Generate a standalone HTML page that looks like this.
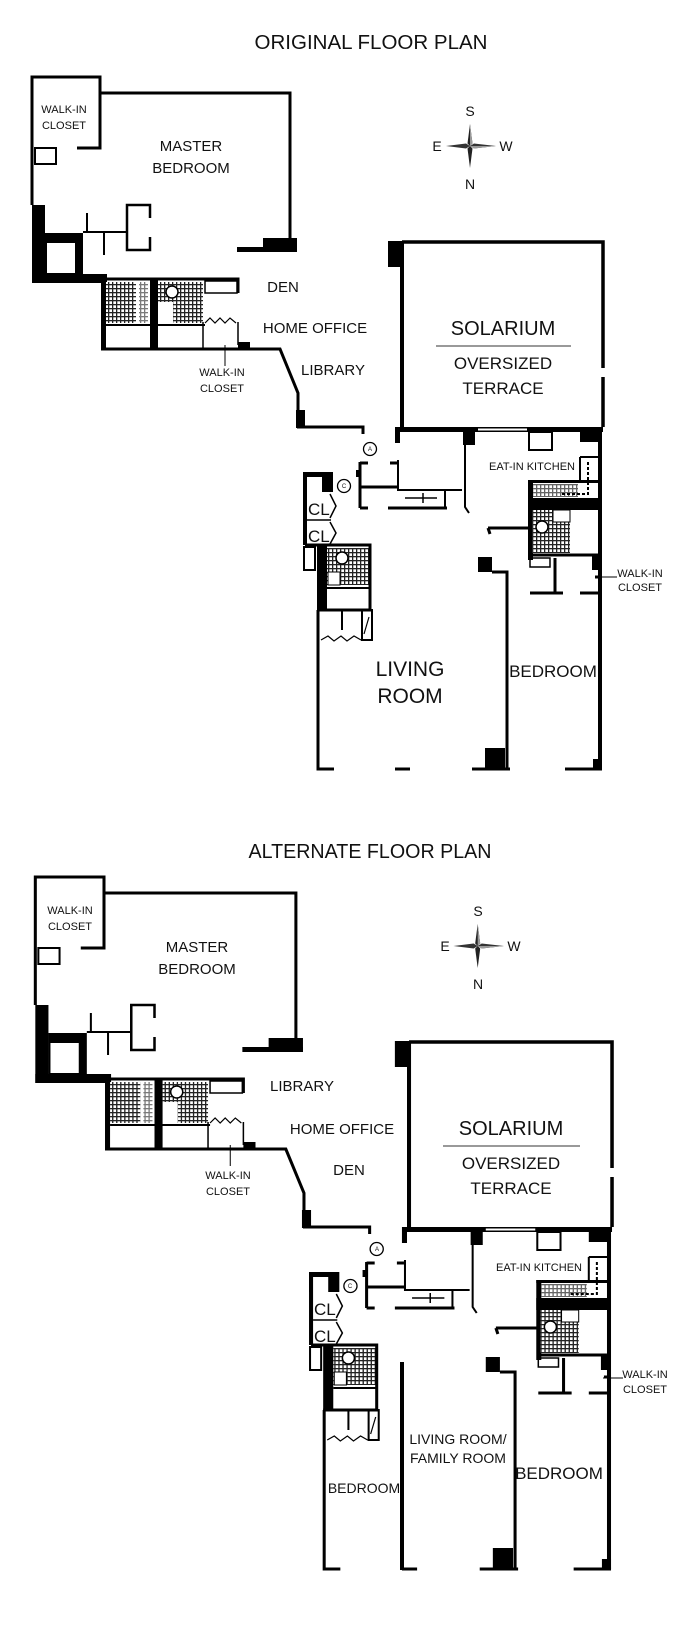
<!DOCTYPE html>
<html><head><meta charset="utf-8"><style>
html,body{margin:0;padding:0;background:#fff}
svg{display:block}
text{font-family:"Liberation Sans",sans-serif;fill:#111}
</style></head><body>
<svg width="697" height="1627" viewBox="0 0 697 1627" xmlns="http://www.w3.org/2000/svg">
<defs>
<pattern id="h" width="4" height="4" patternUnits="userSpaceOnUse">
<rect width="4" height="4" fill="#fff"/><rect x="0" y="0" width="4" height="1.3" fill="#222"/><rect x="0" y="0" width="1.3" height="4" fill="#222"/>
</pattern>
<g id="plan" fill="none" stroke="#000" stroke-width="3">
<!-- master -->
<path d="M77 148 H100 V77 H32 V205"/>
<path d="M100 93 H290 V250"/>
<rect x="237" y="247" width="60" height="5" fill="#000" stroke="none"/>
<rect x="263" y="238" width="34" height="14" fill="#000" stroke="none"/>
<rect x="32" y="205" width="13" height="78" fill="#000" stroke="none"/>
<rect x="32" y="274" width="75" height="9" fill="#000" stroke="none"/>
<rect x="45" y="233" width="38" height="42" fill="#000" stroke="none"/>
<rect x="47" y="243" width="28" height="30" fill="#fff" stroke="none"/>
<path d="M87 213 V232 M83 232 H126 M104 232 V255" stroke-width="2"/>
<path d="M150 218 V205 H127 V250 H150 V237" stroke-width="2.5"/>
<rect x="35" y="148" width="21" height="16" stroke-width="2"/>
<!-- bath block -->
<rect x="106" y="282" width="30" height="41" fill="url(#h)" stroke="none"/>
<rect x="139" y="282" width="9" height="41" fill="url(#h)" stroke="none" opacity="0.6"/>
<rect x="158" y="282" width="45" height="20" fill="url(#h)" stroke="none"/>
<rect x="173" y="302" width="30" height="21" fill="url(#h)" stroke="none"/>
<circle cx="172" cy="292" r="6" fill="#fff" stroke-width="1.5"/>
<rect x="205" y="281" width="32" height="12" stroke-width="1.5"/>
<path d="M101 279 H238 V293"/>
<rect x="101" y="278" width="5" height="72" fill="#000" stroke="none"/>
<rect x="150" y="278" width="8" height="72" fill="#000" stroke="none"/>
<path d="M106 325 H205" stroke-width="2"/>
<path d="M203 322 V348 M238 322 V345" stroke-width="1.5"/>
<path d="M205 323 L210 318 L215 323 L220 318 L225 323 L230 318 L236 323" stroke-width="1.2"/>
<path d="M101 349 H280 L298 393 V412"/>
<rect x="238" y="342" width="12" height="8" fill="#000" stroke="none"/>
<path d="M225 345 V366" stroke-width="1"/>
<rect x="296" y="410" width="9" height="18" fill="#000" stroke="none"/>
<path d="M297 427 H363 V434"/>
<!-- solarium -->
<rect x="388" y="241" width="14" height="26" fill="#000" stroke="none"/>
<path d="M402 242 H603 V368 M603 377 V427" stroke-width="3.5"/>
<path d="M402 241 V427" stroke-width="4"/>
<!-- kitchen top -->
<rect x="396" y="427" width="207" height="5" fill="#000" stroke="none"/>
<rect x="478" y="428.5" width="49" height="2" fill="#fff" stroke="none"/>
<rect x="395" y="427" width="5" height="16" fill="#000" stroke="none"/>
<rect x="463" y="427" width="12" height="18" fill="#000" stroke="none"/>
<rect x="580" y="427" width="20" height="15" fill="#000" stroke="none"/>
<rect x="529" y="432" width="23" height="18" stroke-width="2"/>
<path d="M465 445 V507 L469 513" stroke-width="2"/>
<!-- entry -->
<path d="M397 433 V443 M398 460 V490 H462 M445 490 V508" stroke-width="2"/>
<path d="M405 498 H437 M423 493 V503" stroke-width="1.5"/>
<path d="M388 508 H447" stroke-width="3"/>
<path d="M360 462 V508 M360 487 H398 M360 508 H368 M360 463 H368 M390 463 H397" stroke-width="3"/>
<rect x="356" y="470" width="4" height="7" fill="#000" stroke="none"/>
<circle cx="370" cy="449" r="6.5" stroke-width="1.3"/>
<circle cx="344" cy="486" r="6.5" stroke-width="1.3"/>
<!-- CL -->
<rect x="303" y="472" width="4" height="73" fill="#000" stroke="none"/>
<rect x="303" y="472" width="30" height="20" fill="#000" stroke="none"/>
<rect x="307" y="477" width="15" height="15" fill="#fff" stroke="none"/>
<path d="M307 520 H331" stroke-width="1.5"/>
<path d="M330 494 L336 506 L330 518 M330 522 L336 533 L330 544" stroke-width="1.5"/>
<rect x="304" y="547" width="11" height="23" stroke-width="2"/>
<!-- bath2 -->
<rect x="327" y="548" width="43" height="37" fill="url(#h)" stroke="none"/>
<circle cx="342" cy="558" r="6" fill="#fff" stroke-width="1.5"/>
<rect x="328" y="572" width="12" height="13" fill="#fff" stroke-width="1"/>
<rect x="317" y="545" width="10" height="65" fill="#000" stroke="none"/>
<path d="M305 545 H370 V610 H317"/>
<path d="M327 588 H370" stroke-width="2"/>
<path d="M342 610 V630" stroke-width="2"/>
<rect x="362" y="610" width="10" height="30" stroke-width="2"/>
<path d="M364 634 L369 617" stroke-width="1.2"/>
<path d="M321 640 L328 636 L334 641 L341 636 L347 641 L354 636 L361 640" stroke-width="1.2"/>
<!-- living -->
<path d="M318 610 V769 H334"/>
<path d="M395 769 H410"/>
<path d="M472 769 H510"/>
<rect x="485" y="748" width="20" height="21" fill="#000" stroke="none"/>
<rect x="478" y="557" width="14" height="15" fill="#000" stroke="none"/>
<path d="M492 572 H507 V769"/>
<!-- kitchen -->
<path d="M488 528 H530 M488 528 L490 534"/>
<rect x="528" y="480" width="5" height="80" fill="#000" stroke="none"/>
<rect x="528" y="480" width="72" height="3" fill="#000" stroke="none"/>
<rect x="533" y="484" width="45" height="13" fill="url(#h)" stroke="none" opacity="0.7"/>
<rect x="528" y="498" width="72" height="12" fill="#000" stroke="none"/>
<path d="M580 457 V480 M580 457 H600" stroke-width="2"/>
<path d="M588 462 V494 H560" stroke-width="2" stroke-dasharray="3 2"/>
<!-- bath3 -->
<rect x="532" y="510" width="38" height="43" fill="url(#h)" stroke="none"/>
<circle cx="542" cy="527" r="6" fill="#fff" stroke-width="1.5"/>
<rect x="553" y="510" width="17" height="12" fill="#fff" stroke-width="1"/>
<path d="M530 555 H598"/>
<rect x="592" y="555" width="8" height="15" fill="#000" stroke="none"/>
<rect x="530" y="558" width="20" height="9" stroke-width="1.5"/>
<path d="M555 558 V593 M530 593 H563 M580 593 H598 M595 577 H598"/>
<path d="M600 427 V769" stroke-width="4"/>
<path d="M565 769 H602"/>
<rect x="593" y="759" width="9" height="10" fill="#000" stroke="none"/>
<!-- compass -->
<g stroke="none">
<polygon points="470,124 472.5,143.5 470,146 467.5,143.5" fill="#222"/>
<polygon points="470,168 472.5,148.5 470,146 467.5,148.5" fill="#222"/>
<polygon points="446,146 466,143.5 470,146 466,148.5" fill="#333"/>
<polygon points="496,146 474,143.5 470,146 474,148.5" fill="#333"/>
<polygon points="470,124 472.5,143.5 470,146" fill="#999"/>
<polygon points="496,146 474,148.5 470,146" fill="#999"/>
</g>
</g>
</defs>

<use href="#plan"/>
<use href="#plan" transform="translate(3,800) scale(1.01,1)"/>
<rect x="400" y="1362" width="4" height="208" fill="#000"/>

<!-- shared-ish labels top -->
<g font-size="20">
<text x="371" y="49" text-anchor="middle" textLength="233" lengthAdjust="spacingAndGlyphs">ORIGINAL FLOOR PLAN</text>
<text x="370" y="858" text-anchor="middle" textLength="243" lengthAdjust="spacingAndGlyphs">ALTERNATE FLOOR PLAN</text>
</g>

<g font-size="14" text-anchor="middle">
<text x="470" y="116">S</text><text x="470" y="189">N</text>
<text x="437" y="151">E</text><text x="506" y="151">W</text>
<text x="478" y="916">S</text><text x="478" y="989">N</text>
<text x="445" y="951">E</text><text x="514" y="951">W</text>
</g>

<g font-size="20" text-anchor="middle">
<text x="503" y="335">SOLARIUM</text>
<text x="511" y="1135">SOLARIUM</text>
</g>
<path d="M436 346 H571" stroke="#333" stroke-width="1"/>
<path d="M443 1146 H580" stroke="#333" stroke-width="1"/>
<g font-size="17" text-anchor="middle">
<text x="503" y="369">OVERSIZED</text><text x="503" y="394">TERRACE</text>
<text x="511" y="1169">OVERSIZED</text><text x="511" y="1194">TERRACE</text>
</g>

<g font-size="15" text-anchor="middle">
<text x="191" y="151">MASTER</text><text x="191" y="173">BEDROOM</text>
<text x="197" y="952">MASTER</text><text x="197" y="974">BEDROOM</text>
<text x="283" y="292">DEN</text>
<text x="315" y="333">HOME OFFICE</text>
<text x="333" y="375">LIBRARY</text>
<text x="302" y="1091">LIBRARY</text>
<text x="342" y="1134">HOME OFFICE</text>
<text x="349" y="1175">DEN</text>
</g>

<g font-size="11" text-anchor="middle">
<text x="64" y="113">WALK-IN</text><text x="64" y="129">CLOSET</text>
<text x="70" y="914">WALK-IN</text><text x="70" y="930">CLOSET</text>
<text x="222" y="376">WALK-IN</text><text x="222" y="392">CLOSET</text>
<text x="228" y="1179">WALK-IN</text><text x="228" y="1195">CLOSET</text>
<text x="640" y="577">WALK-IN</text><text x="640" y="591">CLOSET</text>
<text x="645" y="1378">WALK-IN</text><text x="645" y="1393">CLOSET</text>
<text x="532" y="470">EAT-IN KITCHEN</text>
<text x="539" y="1271">EAT-IN KITCHEN</text>
</g>
<path d="M597 577 H617" stroke="#000" stroke-width="1"/>
<path d="M603 1378 H623" stroke="#000" stroke-width="1"/>
<g font-size="6" text-anchor="middle">
<text x="370" y="451">A</text><text x="344" y="488">C</text>
<text x="377" y="1251">A</text><text x="350" y="1288">C</text>
</g>
<g font-size="17">
<text x="308" y="515">CL</text><text x="308" y="542">CL</text>
<text x="314" y="1315">CL</text><text x="314" y="1342">CL</text>
</g>
<g font-size="21" text-anchor="middle">
<text x="410" y="676">LIVING</text><text x="410" y="703">ROOM</text>
</g>
<g font-size="17" text-anchor="middle">
<text x="553" y="677">BEDROOM</text>
<text x="559" y="1479">BEDROOM</text>
</g>
<g font-size="14" text-anchor="middle">
<text x="458" y="1444">LIVING ROOM/</text>
<text x="458" y="1463">FAMILY ROOM</text>
<text x="364" y="1493">BEDROOM</text>
</g>
</svg>
</body></html>
